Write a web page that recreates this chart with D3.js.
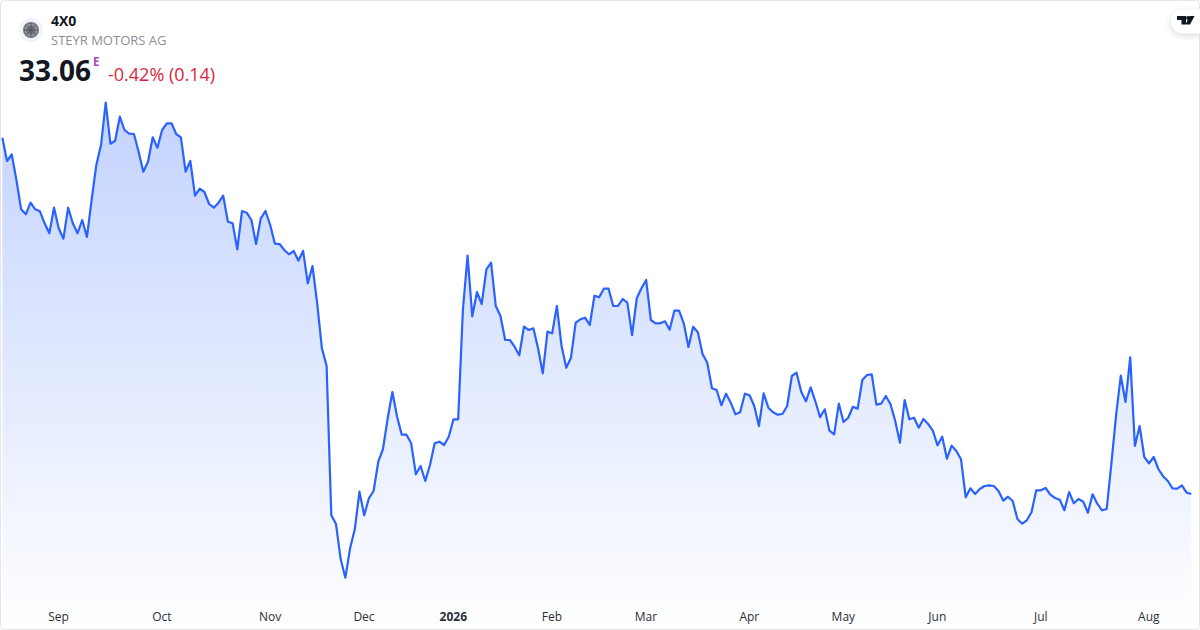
<!DOCTYPE html>
<html>
<head>
<meta charset="utf-8">
<script src="https://cdn.jsdelivr.net/npm/d3@7"></script>
<style>
  html, body { margin: 0; padding: 0; background: #fff; }
  svg { display: block; font-family: "Open Sans", sans-serif; }
</style>
</head>
<body>
<svg id="chart" width="1200" height="630"></svg>
<script>
var closes = [
  68.69,66.36,67.03,64.46,61.53,61.03,62.19,61.53,61.33,60.13,59.13,61.69,59.63,58.59,61.69,60.13,59.13,60.46,58.76,62.46,
  65.96,67.96,72.19,68.09,68.39,70.79,69.46,69.09,69.06,67.29,65.29,66.29,68.73,67.69,69.46,70.13,70.13,69.06,68.73,65.29,
  66.36,62.89,63.59,63.26,62.06,61.69,62.19,62.89,60.29,60.13,57.53,61.36,61.19,60.46,58.06,60.63,61.36,59.96,58.09,58.06,
  57.46,57.03,57.36,56.39,57.36,54.13,55.86,52.13,47.63,45.89,30.93,30.06,26.53,24.69,27.63,29.53,33.29,30.93,32.63,33.36,
  36.29,37.56,40.63,43.26,40.79,38.99,38.99,38.13,35.03,35.86,34.36,35.96,38.13,38.29,37.96,38.79,40.53,40.53,51.46,56.89,
  50.83,53.26,52.06,55.53,56.19,51.86,50.86,48.46,48.46,47.79,46.93,49.79,49.46,49.63,47.63,45.13,49.29,49.13,51.86,47.86,
  45.69,46.69,50.19,50.53,50.69,49.96,52.89,52.73,53.59,53.59,51.86,51.86,52.56,52.19,48.96,52.63,53.63,54.46,50.46,50.13,
  50.13,50.33,49.49,51.39,51.39,50.13,47.76,49.79,49.23,47.06,46.19,43.63,43.46,41.93,43.09,42.19,41.03,41.23,43.09,42.93,
  41.86,39.86,43.13,41.69,41.23,40.99,41.06,41.86,44.86,45.19,43.29,42.33,43.73,42.33,40.73,41.53,39.39,39.03,42.09,40.26,
  40.69,41.79,41.59,44.46,44.96,45.03,41.99,42.09,42.86,42.03,40.36,38.19,42.46,40.53,40.69,39.69,40.56,40.06,39.39,37.93,
  38.79,36.59,37.89,37.36,36.53,32.73,33.63,33.06,33.56,33.86,33.93,33.86,33.33,32.39,32.79,32.36,30.56,30.09,30.43,31.23,
  33.43,33.43,33.66,32.99,32.66,32.49,31.43,33.26,32.13,32.56,32.29,31.19,33.03,32.09,31.43,31.56,36.13,40.96,44.89,42.26,
  46.73,37.86,39.86,36.76,36.13,36.76,35.56,34.83,34.36,33.63,33.59,33.93,33.20,33.06
]
var tickIndex = [12, 34, 57, 77, 96, 117, 137, 159, 179, 199, 221, 244]
var tickLabels = ['Sep', 'Oct', 'Nov', 'Dec', '2026', 'Feb', 'Mar', 'Apr', 'May', 'Jun', 'Jul', 'Aug']

var w = 1200, h = 630
var svg = d3.select('#chart')

var x = d3.scaleLinear().domain([0, closes.length - 1]).range([2.33, 1191.3])
var y = d3.scaleLinear().domain([19.46, 82.46]).range([630, 0])

var defs = svg.append('defs')
var grad = defs.append('linearGradient')
  .attr('id', 'fillGrad')
  .attr('gradientUnits', 'userSpaceOnUse')
  .attr('x1', 0).attr('x2', 0)
  .attr('y1', y(d3.max(closes))).attr('y2', h)
grad.append('stop').attr('offset', 0).attr('stop-color', '#2962ff').attr('stop-opacity', 0.28)
grad.append('stop').attr('offset', 1).attr('stop-color', '#2962ff').attr('stop-opacity', 0)

var shadow = defs.append('filter').attr('id', 'pillShadow')
  .attr('x', '-40%').attr('y', '-40%').attr('width', '180%').attr('height', '180%')
shadow.append('feDropShadow')
  .attr('dx', 0).attr('dy', 2).attr('stdDeviation', 3)
  .attr('flood-color', '#000').attr('flood-opacity', 0.16)

var area = d3.area()
  .x(function(d, i) { return x(i) })
  .y0(h)
  .y1(function(d) { return y(d) })
var line = d3.line()
  .x(function(d, i) { return x(i) })
  .y(function(d) { return y(d) })

svg.append('path').datum(closes).attr('d', area).attr('fill', 'url(#fillGrad)')
svg.append('path').datum(closes).attr('d', line)
  .attr('fill', 'none')
  .attr('stroke', '#2962ff')
  .attr('stroke-width', 2.2)
  .attr('stroke-linejoin', 'round')

// month labels
var axis = d3.axisBottom(x)
  .tickValues(tickIndex)
  .tickSize(0)
  .tickPadding(0)
  .tickFormat(function(d, i) { return tickLabels[i] })
var axisG = svg.append('g').attr('transform', 'translate(-0.7,622)').call(axis)
axisG.select('.domain').remove()
axisG.selectAll('text')
  .attr('y', -1).attr('dy', 0)
  .style('font-family', '"Open Sans", sans-serif')
  .style('font-size', '12px')
  .style('fill', '#2a2e39')
  .style('font-weight', function(d, i) { return tickLabels[i] == '2026' ? 700 : 400 })

// card border
svg.append('rect')
  .attr('x', 0.5).attr('y', 0.5).attr('width', w - 1).attr('height', h - 1).attr('rx', 4)
  .attr('fill', 'none').attr('stroke', '#e6e6e8')

// header
var logo = svg.append('g').attr('transform', 'translate(31,30)')
logo.append('circle').attr('r', 12).attr('fill', '#f0f3fa')
logo.append('circle').attr('r', 8).attr('fill', '#75787f')
logo.append('circle').attr('r', 5.5).attr('fill', 'none').attr('stroke', '#b4b6bb').attr('stroke-width', 0.8)
logo.append('path').attr('d', 'M0,-7V7M-7,0H7M-4,-4L4,4M4,-4L-4,4')
  .attr('stroke', '#4a4d56').attr('stroke-width', 0.8)

svg.append('text').attr('x', 51).attr('y', 26)
  .attr('font-size', 14).attr('font-weight', 700).attr('fill', '#131722').text('4X0')
svg.append('text').attr('x', 51).attr('y', 45)
  .attr('font-size', 13).attr('fill', '#8c8f98').text('STEYR MOTORS AG')
svg.append('text').attr('x', 19).attr('y', 81)
  .attr('font-size', 28).attr('font-weight', 700).attr('fill', '#131722').text('33.06')
svg.append('text').attr('x', 93).attr('y', 65.5)
  .attr('font-size', 11.5).attr('font-weight', 700).attr('fill', '#ab47bc').text('E')
svg.append('text').attr('x', 108).attr('y', 81)
  .attr('font-size', 18).attr('fill', '#d9263c').text('-0.42% (0.14)')

// logo pill, top right
svg.append('path')
  .attr('d', 'M1200,9.5H1183a12,12 0 0 0 0,24H1200Z')
  .attr('fill', '#fff').attr('filter', 'url(#pillShadow)')
svg.append('path')
  .attr('d', 'M1177,16H1186V24.5H1181.5V20H1177ZM1189.5,16H1194.6L1190,24.5H1185.5Z')
  .attr('fill', '#131722')
svg.append('circle').attr('cx', 1188).attr('cy', 18).attr('r', 1.9).attr('fill', '#131722')
</script>
</body>
</html>
